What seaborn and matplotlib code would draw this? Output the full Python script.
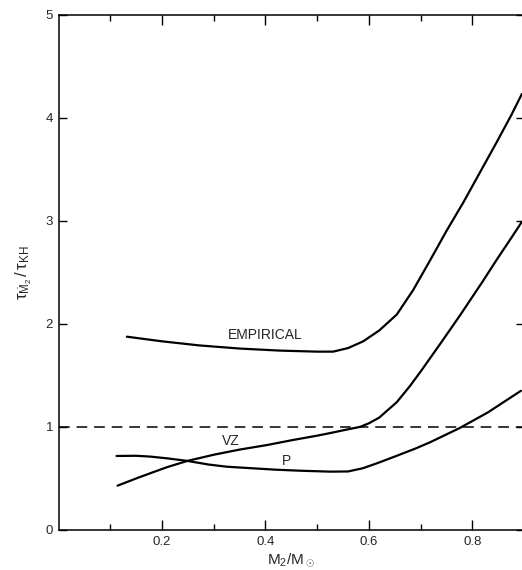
import matplotlib
matplotlib.use("Agg")
import matplotlib.pyplot as plt
import seaborn as sns
import pandas as pd

# ---- data ----
emp_x = [0.132, 0.20, 0.273, 0.35, 0.428, 0.50, 0.531, 0.56, 0.589, 0.62, 0.654,
         0.686, 0.72, 0.75, 0.783, 0.815, 0.847, 0.875, 0.896]
emp_y = [1.875, 1.83, 1.79, 1.76, 1.74, 1.73, 1.73, 1.765, 1.83, 1.935, 2.09,
         2.33, 2.63, 2.90, 3.18, 3.47, 3.76, 4.02, 4.23]

vz_x = [0.114, 0.15, 0.177, 0.21, 0.249, 0.30, 0.35, 0.403, 0.45, 0.50, 0.525,
        0.56, 0.583, 0.60, 0.62, 0.654, 0.68, 0.702, 0.74, 0.776, 0.796, 0.82,
        0.847, 0.875, 0.896]
vz_y = [0.43, 0.50, 0.55, 0.61, 0.67, 0.73, 0.78, 0.824, 0.87, 0.915, 0.94,
        0.977, 1.0, 1.035, 1.09, 1.24, 1.40, 1.55, 1.82, 2.08, 2.23, 2.41,
        2.62, 2.83, 2.99]

p_x = [0.112, 0.15, 0.177, 0.21, 0.249, 0.29, 0.325, 0.37, 0.42, 0.467, 0.525,
       0.56, 0.589, 0.62, 0.654, 0.69, 0.718, 0.776, 0.83, 0.894]
p_y = [0.718, 0.72, 0.712, 0.695, 0.67, 0.635, 0.614, 0.60, 0.585, 0.575, 0.566,
       0.568, 0.60, 0.655, 0.72, 0.79, 0.85, 0.99, 1.14, 1.35]

ref_level = 1.0

curve_labels = ["EMPIRICAL", "VZ", "P"]
label_x = [0.40, 0.333, 0.441]
label_y = [1.89, 0.866, 0.672]

x_major = [0.2, 0.4, 0.6, 0.8]
x_major_labels = ["0.2", "0.4", "0.6", "0.8"]
x_minor = [0.1, 0.3, 0.5, 0.7]
y_ticks = [0, 1, 2, 3, 4, 5]
y_tick_labels = ["0", "1", "2", "3", "4", "5"]

# ---- style ----
sns.set_style("ticks")
plt.rcParams["font.family"] = ["Liberation Sans", "DejaVu Sans"]
plt.rcParams["mathtext.fontset"] = "custom"
plt.rcParams["mathtext.rm"] = "Liberation Sans"
plt.rcParams["mathtext.it"] = "Liberation Sans"
plt.rcParams["mathtext.sf"] = "Liberation Sans"

fig = plt.figure(figsize=(5.22, 5.70), dpi=100)
ax = fig.add_axes([58.6 / 522, 1 - 530 / 570, (524 - 58.6) / 522, (530 - 14.5) / 570])

df = pd.concat([
    pd.DataFrame({"x": emp_x, "y": emp_y, "curve": "EMPIRICAL"}),
    pd.DataFrame({"x": vz_x, "y": vz_y, "curve": "VZ"}),
    pd.DataFrame({"x": p_x, "y": p_y, "curve": "P"}),
])

sns.lineplot(data=df, x="x", y="y", units="curve", estimator=None, sort=False,
             color="black", linewidth=1.6, ax=ax, legend=False)
ax.axhline(ref_level, color="black", linewidth=1.1, dashes=(7, 4.5))

for t, xx, yy in zip(curve_labels, label_x, label_y):
    ax.text(xx, yy, t, ha="center", va="center", fontsize=10)

ax.set_xlim(0, 0.9)
ax.set_ylim(0, 5)
ax.set_xticks(x_major)
ax.set_xticklabels(x_major_labels)
ax.set_xticks(x_minor, minor=True)
ax.set_yticks(y_ticks)
ax.set_yticklabels(y_tick_labels)

ax.tick_params(which="major", direction="in", length=7, width=1.0, labelsize=9.5,
               top=True, right=True, pad=4, color="black")
ax.tick_params(which="minor", direction="in", length=4.5, width=1.0,
               top=True, right=True, color="black")
ax.tick_params(axis="y", which="major", length=6)

for s in ax.spines.values():
    s.set_linewidth(1.1)
    s.set_color("black")

ax.set_xlabel(r"M$_2$/M$_\odot$", fontsize=11, labelpad=3)
ax.set_ylabel(r"$\tau_{\dot{M}_2}\,/\,\tau_{KH}$", fontsize=12, labelpad=8)

fig.savefig("out.png", dpi=100)
